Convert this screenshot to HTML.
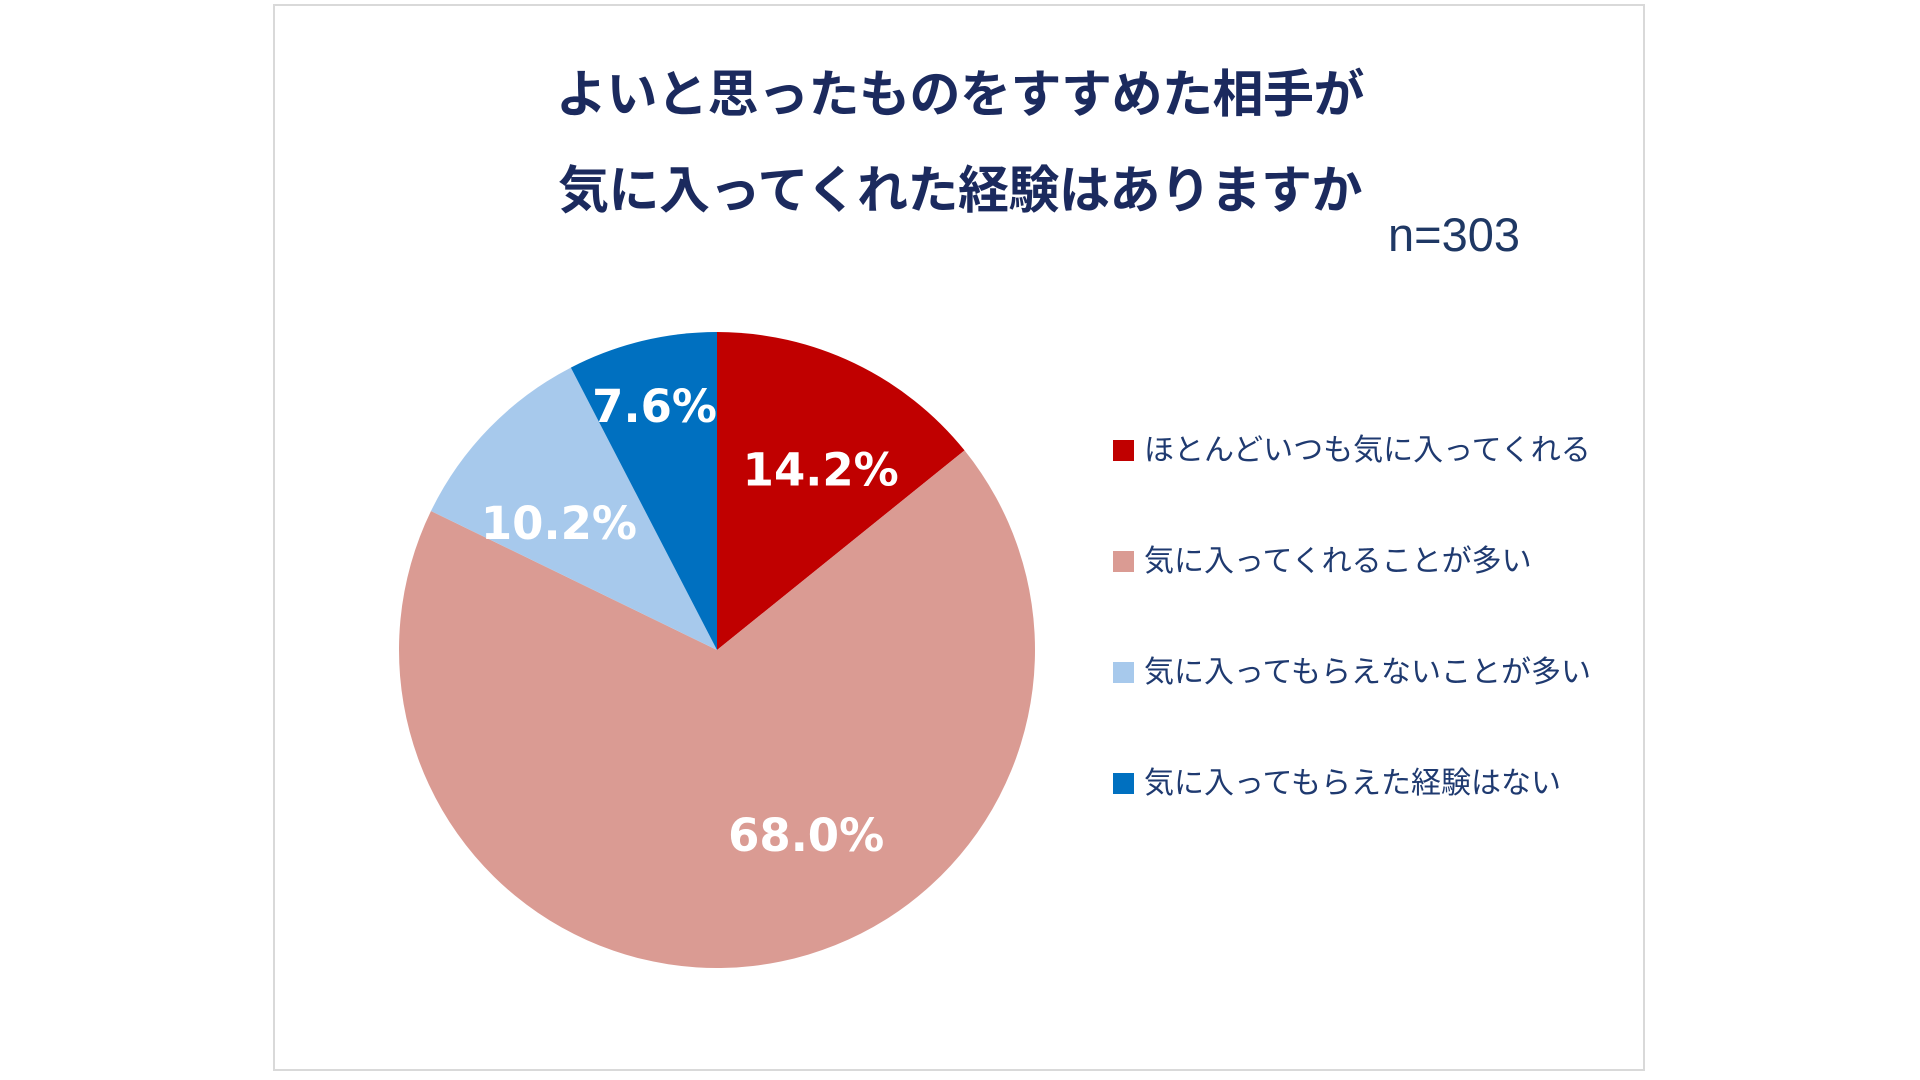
<!DOCTYPE html>
<html><head><meta charset="utf-8"><style>
body{margin:0;width:1920px;height:1080px;background:#fff;overflow:hidden;font-family:"Liberation Sans","Noto Sans CJK JP",sans-serif;}
#frame{position:absolute;left:273px;top:4px;width:1372px;height:1067px;border:2px solid #d9d9d9;box-sizing:border-box;}
.title{position:absolute;left:0;width:1920px;text-align:center;font-weight:bold;font-size:51px;color:#1b2a5e;font-family:"Noto Sans CJK JP",sans-serif;letter-spacing:-0.5px;}
#n{position:absolute;left:1388px;top:207px;font-size:47px;color:#1f3864;}
.leg{position:absolute;left:1113px;font-size:30px;color:#1f3a70;font-family:"Liberation Sans","Noto Sans CJK JP",sans-serif;white-space:nowrap;}
.leg span{display:inline-block;width:21px;height:21px;margin-right:10px;vertical-align:-1px;}
</style></head><body>
<div id="frame"></div>
<div class="title" style="top:53px">よいと思ったものをすすめた相手が</div>
<div class="title" style="top:149px">気に入ってくれた経験はありますか</div>
<div id="n">n=303</div>
<svg id="pie" width="1920" height="1080" style="position:absolute;left:0;top:0"></svg>
<div id="legend"></div>
<script>
const categories=["ほとんどいつも気に入ってくれる","気に入ってくれることが多い","気に入ってもらえないことが多い","気に入ってもらえた経験はない"];
const values=[14.2,68.0,10.2,7.6];
const labels=["14.2%","68.0%","10.2%","7.6%"];
const colors=["#C00000","#DA9B93","#A7C9EC","#0070C0"];
const cx=717,cy=650,r=318;
const svg=document.getElementById('pie');
const NS="http://www.w3.org/2000/svg";
const total=values.reduce((a,b)=>a+b,0);
const labelR=[0.66,0.65,0.63,0.79];
const labelShift=[5,-20,-5,0];
let a0=0;
values.forEach((v,i)=>{
  const a1=a0+v/total*2*Math.PI;
  const x0=cx+r*Math.sin(a0),y0=cy-r*Math.cos(a0),x1=cx+r*Math.sin(a1),y1=cy-r*Math.cos(a1);
  const p=document.createElementNS(NS,'path');
  p.setAttribute('d',`M${cx},${cy}L${x0},${y0}A${r},${r} 0 ${a1-a0>Math.PI?1:0} 1 ${x1},${y1}Z`);
  p.setAttribute('fill',colors[i]);
  
  
  svg.appendChild(p);
  const am=(a0+a1)/2+labelShift[i]*Math.PI/180,lr=r*labelR[i];
  const t=document.createElementNS(NS,'text');
  t.setAttribute('x',cx+lr*Math.sin(am)-3);t.setAttribute('y',cy-lr*Math.cos(am)+16);
  t.setAttribute('text-anchor','middle');t.setAttribute('fill','#fff');
  t.setAttribute('font-size','45');t.setAttribute('font-weight','bold');
  t.setAttribute('font-family','"DejaVu Sans",sans-serif');
  t.textContent=labels[i];
  
  
  svg.appendChild(t);
  a0=a1;
});
const leg=document.getElementById('legend');
categories.forEach((c,i)=>{
  const d=document.createElement('div');
  d.className='leg';d.style.top=(425+i*111)+'px';
  d.innerHTML='<span style="background:'+colors[i]+'"></span>'+c;
  
  
  leg.appendChild(d);
});
</script>
</body></html>
